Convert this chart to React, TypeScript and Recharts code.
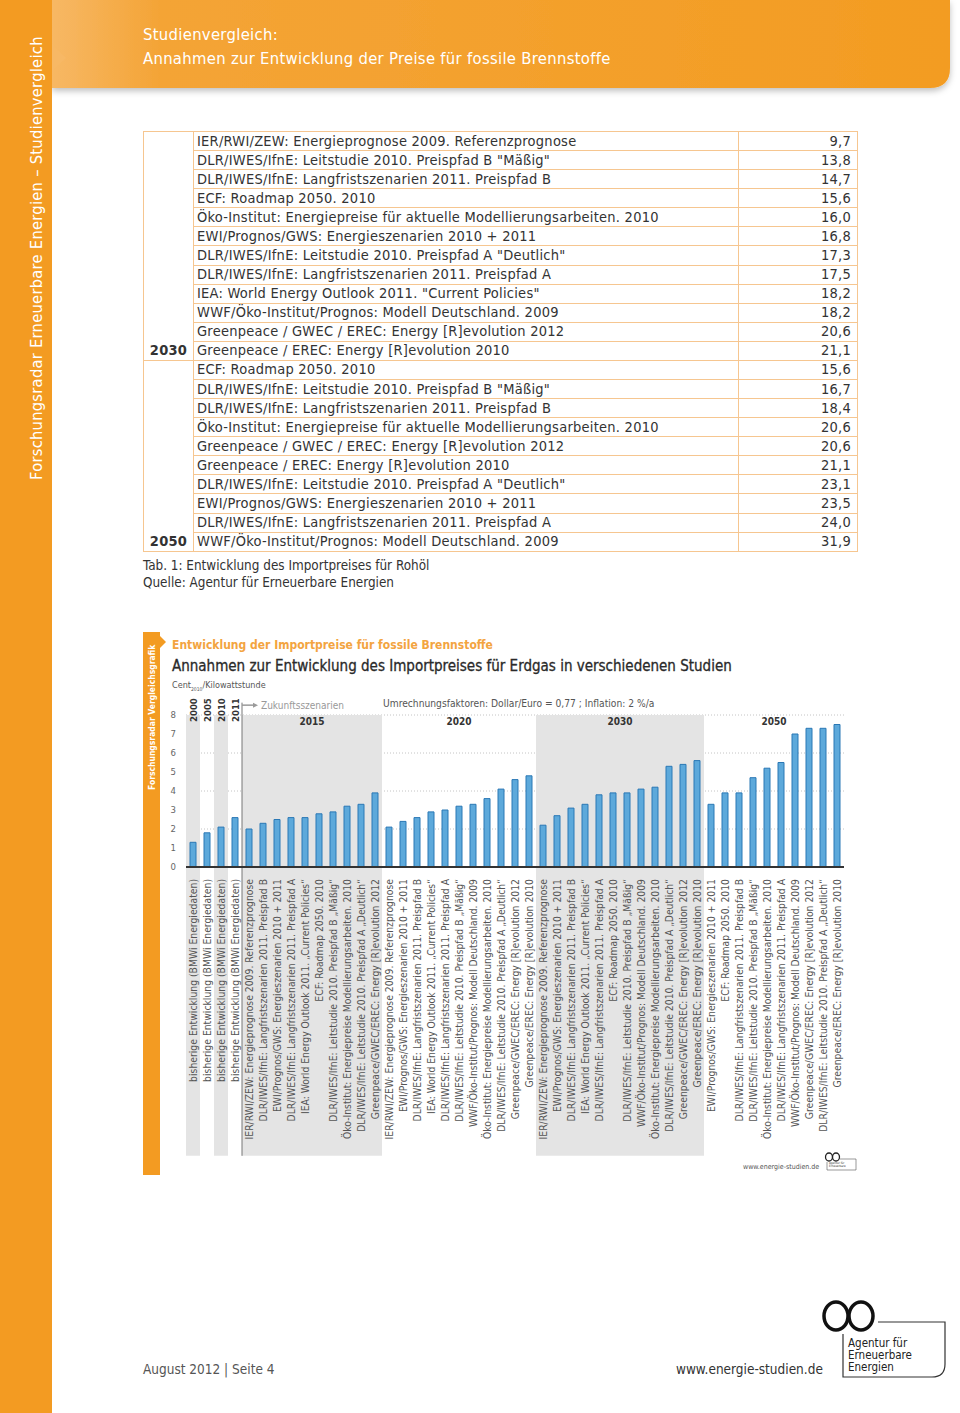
import React from 'react';
import { BarChart, Bar, XAxis, YAxis, CartesianGrid, ReferenceArea } from 'recharts';

const FONT = '"Liberation Sans Narrow", "DejaVu Sans Condensed", Roboto, sans-serif';
const ORANGE = '#F39B22';
const GRAY_BAND = '#e4e4e4';

// ---------- Table data ----------
const table2030Studies = [
  'IER/RWI/ZEW: Energieprognose 2009. Referenzprognose',
  'DLR/IWES/IfnE: Leitstudie 2010. Preispfad B "Mäßig"',
  'DLR/IWES/IfnE: Langfristszenarien 2011. Preispfad B',
  'ECF: Roadmap 2050. 2010',
  'Öko-Institut: Energiepreise für aktuelle Modellierungsarbeiten. 2010',
  'EWI/Prognos/GWS: Energieszenarien 2010 + 2011',
  'DLR/IWES/IfnE: Leitstudie 2010. Preispfad A "Deutlich"',
  'DLR/IWES/IfnE: Langfristszenarien 2011. Preispfad A',
  'IEA: World Energy Outlook 2011. "Current Policies"',
  'WWF/Öko-Institut/Prognos: Modell Deutschland. 2009',
  'Greenpeace / GWEC / EREC: Energy [R]evolution 2012',
  'Greenpeace / EREC: Energy [R]evolution 2010',
];
const table2030Values = ['9,7', '13,8', '14,7', '15,6', '16,0', '16,8', '17,3', '17,5', '18,2', '18,2', '20,6', '21,1'];
const table2050Studies = [
  'ECF: Roadmap 2050. 2010',
  'DLR/IWES/IfnE: Leitstudie 2010. Preispfad B "Mäßig"',
  'DLR/IWES/IfnE: Langfristszenarien 2011. Preispfad B',
  'Öko-Institut: Energiepreise für aktuelle Modellierungsarbeiten. 2010',
  'Greenpeace / GWEC / EREC: Energy [R]evolution 2012',
  'Greenpeace / EREC: Energy [R]evolution 2010',
  'DLR/IWES/IfnE: Leitstudie 2010. Preispfad A "Deutlich"',
  'EWI/Prognos/GWS: Energieszenarien 2010 + 2011',
  'DLR/IWES/IfnE: Langfristszenarien 2011. Preispfad A',
  'WWF/Öko-Institut/Prognos: Modell Deutschland. 2009',
];
const table2050Values = ['15,6', '16,7', '18,4', '20,6', '20,6', '21,1', '23,1', '23,5', '24,0', '31,9'];

// ---------- Chart data ----------
const histYears = ['2000', '2005', '2010', '2011'];
const histLabels = [
  'bisherige Entwicklung (BMWi Energiedaten)',
  'bisherige Entwicklung (BMWi Energiedaten)',
  'bisherige Entwicklung (BMWi Energiedaten)',
  'bisherige Entwicklung (BMWi Energiedaten)',
];
const histValues = [1.3, 1.8, 2.1, 2.6];

const labels2015 = [
  'IER/RWI/ZEW: Energieprognose 2009. Referenzprognose',
  'DLR/IWES/IfnE: Langfristszenarien 2011. Preispfad B',
  'EWI/Prognos/GWS: Energieszenarien 2010 + 2011',
  'DLR/IWES/IfnE: Langfristszenarien 2011. Preispfad A',
  'IEA: World Energy Outlook 2011. „Current Policies“',
  'ECF: Roadmap 2050. 2010',
  'DLR/IWES/IfnE: Leitstudie 2010. Preispfad B „Mäßig“',
  'Öko-Institut: Energiepreise Modellierungsarbeiten. 2010',
  'DLR/IWES/IfnE: Leitstudie 2010. Preispfad A „Deutlich“',
  'Greenpeace/GWEC/EREC: Energy [R]evolution 2012',
];
const values2015 = [2.0, 2.3, 2.5, 2.6, 2.6, 2.8, 2.9, 3.2, 3.3, 3.9];

const labels2020 = [
  'IER/RWI/ZEW: Energieprognose 2009. Referenzprognose',
  'EWI/Prognos/GWS: Energieszenarien 2010 + 2011',
  'DLR/IWES/IfnE: Langfristszenarien 2011. Preispfad B',
  'IEA: World Energy Outlook 2011. „Current Policies“',
  'DLR/IWES/IfnE: Langfristszenarien 2011. Preispfad A',
  'DLR/IWES/IfnE: Leitstudie 2010. Preispfad B „Mäßig“',
  'WWF/Öko-Institut/Prognos: Modell Deutschland. 2009',
  'Öko-Institut: Energiepreise Modellierungsarbeiten. 2010',
  'DLR/IWES/IfnE: Leitstudie 2010. Preispfad A „Deutlich“',
  'Greenpeace/GWEC/EREC: Energy [R]evolution 2012',
  'Greenpeace/EREC: Energy [R]evolution 2010',
];
const values2020 = [2.1, 2.4, 2.6, 2.9, 3.0, 3.2, 3.3, 3.6, 4.1, 4.6, 4.8];

const labels2030 = [
  'IER/RWI/ZEW: Energieprognose 2009. Referenzprognose',
  'EWI/Prognos/GWS: Energieszenarien 2010 + 2011',
  'DLR/IWES/IfnE: Langfristszenarien 2011. Preispfad B',
  'IEA: World Energy Outlook 2011. „Current Policies“',
  'DLR/IWES/IfnE: Langfristszenarien 2011. Preispfad A',
  'ECF: Roadmap 2050. 2010',
  'DLR/IWES/IfnE: Leitstudie 2010. Preispfad B „Mäßig“',
  'WWF/Öko-Institut/Prognos: Modell Deutschland. 2009',
  'Öko-Institut: Energiepreise Modellierungsarbeiten. 2010',
  'DLR/IWES/IfnE: Leitstudie 2010. Preispfad A „Deutlich“',
  'Greenpeace/GWEC/EREC: Energy [R]evolution 2012',
  'Greenpeace/EREC: Energy [R]evolution 2010',
];
const values2030 = [2.2, 2.7, 3.1, 3.3, 3.8, 3.9, 3.9, 4.1, 4.2, 5.3, 5.4, 5.6];

const labels2050 = [
  'EWI/Prognos/GWS: Energieszenarien 2010 + 2011',
  'ECF: Roadmap 2050. 2010',
  'DLR/IWES/IfnE: Langfristszenarien 2011. Preispfad B',
  'DLR/IWES/IfnE: Leitstudie 2010. Preispfad B „Mäßig“',
  'Öko-Institut: Energiepreise Modellierungsarbeiten. 2010',
  'DLR/IWES/IfnE: Langfristszenarien 2011. Preispfad A',
  'WWF/Öko-Institut/Prognos: Modell Deutschland. 2009',
  'Greenpeace/GWEC/EREC: Energy [R]evolution 2012',
  'DLR/IWES/IfnE: Leitstudie 2010. Preispfad A „Deutlich“',
  'Greenpeace/EREC: Energy [R]evolution 2010',
];
const values2050 = [3.3, 3.9, 3.9, 4.7, 5.2, 5.5, 7.0, 7.3, 7.3, 7.5];

const yTicks = [0, 1, 2, 3, 4, 5, 6, 7, 8];

// ---------- build chart rows ----------
const groups = [
  { labels: histLabels, values: histValues },
  { labels: labels2015, values: values2015 },
  { labels: labels2020, values: values2020 },
  { labels: labels2030, values: values2030 },
  { labels: labels2050, values: values2050 },
];
const data: { k: string; label: string; v: number }[] = [];
groups.forEach((g) => g.labels.forEach((l, i) => data.push({ k: 'k' + data.length, label: l, v: g.values[i] })));
const labelByKey: Record<string, string> = {};
data.forEach((d) => (labelByKey[d.k] = d.label));
const keyAt = (i: number) => data[i].k;
const start2015 = histLabels.length;
const start2020 = start2015 + labels2015.length;
const start2030 = start2020 + labels2020.length;
const start2050 = start2030 + labels2030.length;
const last = data.length - 1;

const LabelTick = (props: any) => {
  const { x, y, payload } = props;
  return (
    <text
      transform={`translate(${x + 3.7},${y + 10}) rotate(-90)`}
      textAnchor="end"
      fontSize={10.3}
      fill="#555"
      fontFamily={FONT}
    >
      {labelByKey[payload.value]}
    </text>
  );
};

const YearLabel = (props: any) => {
  const { viewBox, text } = props;
  if (!viewBox) return null;
  const cx = viewBox.x + viewBox.width / 2;
  return (
    <text
      transform={`translate(${cx + 3.5},${viewBox.y + 7}) rotate(-90)`}
      fontSize={9.5}
      fontWeight="bold"
      fill="#333"
      fontFamily={FONT}
    >
      {text}
    </text>
  );
};

const Separator = (p: any) => {
  const { x, y, height } = p;
  return (
    <g>
      <line x1={x} y1={y} x2={x} y2={y + height} stroke="#777" strokeWidth={1} />
      <line x1={x} y1={y + 2.5} x2={x + 12} y2={y + 2.5} stroke="#9a9a9a" strokeWidth={1.5} />
      <path d={`M${x + 11},${y} L${x + 16},${y + 2.5} L${x + 11},${y + 5} Z`} fill="#9a9a9a" />
      <text x={x + 19} y={y + 6} fontSize={10} fill="#999" fontFamily={FONT}>
        Zukunftsszenarien
      </text>
    </g>
  );
};

const groupLabel = (text: string) => ({
  value: text,
  position: 'insideTop' as const,
  offset: 3,
  fontSize: 10,
  fontWeight: 'bold',
  fill: '#333',
  fontFamily: FONT,
});

const Chart = () => (
  <BarChart
    width={700}
    height={540}
    data={data}
    margin={{ top: 85, right: 2, bottom: 3, left: 0 }}
    barCategoryGap={0}
  >
    <CartesianGrid horizontal vertical={false} stroke="#c4c4c4" strokeDasharray="1 2" />
    {histYears.map((yr, i) => (
      <ReferenceArea
        key={yr}
        x1={keyAt(i)}
        x2={keyAt(i)}
        y1={-15.2}
        y2={8}
        ifOverflow="visible"
        fill={i % 2 === 0 ? GRAY_BAND : '#ffffff'}
        fillOpacity={i % 2 === 0 ? 1 : 0}
        stroke="none"
        label={<YearLabel text={yr} />}
      />
    ))}
    <ReferenceArea x1={keyAt(start2015)} x2={keyAt(start2020 - 1)} y1={-15.2} y2={8} ifOverflow="visible" fill={GRAY_BAND} fillOpacity={1} stroke="none" label={groupLabel('2015')} />
    <ReferenceArea x1={keyAt(start2020)} x2={keyAt(start2030 - 1)} y1={-15.2} y2={8} ifOverflow="visible" fill="#ffffff" fillOpacity={0} stroke="none" label={groupLabel('2020')} />
    <ReferenceArea x1={keyAt(start2030)} x2={keyAt(start2050 - 1)} y1={-15.2} y2={8} ifOverflow="visible" fill={GRAY_BAND} fillOpacity={1} stroke="none" label={groupLabel('2030')} />
    <ReferenceArea x1={keyAt(start2050)} x2={keyAt(last)} y1={-15.2} y2={8} ifOverflow="visible" fill="#ffffff" fillOpacity={0} stroke="none" label={groupLabel('2050')} />
    <ReferenceArea x1={keyAt(start2015)} x2={keyAt(start2015)} y1={-15.2} y2={8.65} ifOverflow="visible" shape={<Separator />} />
    <XAxis
      dataKey="k"
      interval={0}
      tick={<LabelTick />}
      tickLine={false}
      tickSize={0}
      height={300}
      axisLine={{ stroke: '#333', strokeWidth: 2 }}
    />
    <YAxis
      domain={[0, 8]}
      ticks={yTicks}
      width={40}
      axisLine={false}
      tickLine={false}
      tickSize={0}
      tickMargin={10}
      tick={{ fontSize: 9.5, fill: '#666', fontFamily: FONT }}
    />
    <Bar dataKey="v" fill="#5DA9DB" stroke="#2B78B5" strokeWidth={1} barSize={6} isAnimationActive={false} />
  </BarChart>
);

const cellBorder = '1px solid #F6C690';

const TableBlock = () => {
  const rows: React.ReactNode[] = [];
  const addGroup = (year: string, studies: string[], values: string[]) => {
    studies.forEach((s, i) => {
      rows.push(
        <tr key={year + i} style={{ height: 19.09 }}>
          {i === 0 && (
            <td
              rowSpan={studies.length}
              style={{ border: cellBorder, verticalAlign: 'bottom', textAlign: 'center', fontWeight: 'bold', padding: '0 0 1px 0', lineHeight: '17px' }}
            >
              {year}
            </td>
          )}
          <td style={{ border: cellBorder, padding: '0 0 0 3px', whiteSpace: 'nowrap', lineHeight: '17px' }}>{s}</td>
          <td style={{ border: cellBorder, padding: '0 6px 0 0', textAlign: 'right', lineHeight: '17px' }}>{values[i]}</td>
        </tr>
      );
    });
  };
  addGroup('2030', table2030Studies, table2030Values);
  addGroup('2050', table2050Studies, table2050Values);
  return (
    <table
      style={{
        position: 'absolute',
        left: 143,
        top: 131,
        width: 714,
        borderCollapse: 'collapse',
        tableLayout: 'fixed',
        fontSize: 14.5,
        letterSpacing: 0.25,
        color: '#333',
        fontFamily: FONT,
      }}
    >
      <colgroup>
        <col style={{ width: 50 }} />
        <col style={{ width: 545 }} />
        <col style={{ width: 119 }} />
      </colgroup>
      <tbody>{rows}</tbody>
    </table>
  );
};

const abs = (left: number, top: number, extra: React.CSSProperties = {}): React.CSSProperties => ({
  position: 'absolute',
  left,
  top,
  whiteSpace: 'nowrap',
  ...extra,
});

export default function App() {
  return (
    <div style={{ position: 'absolute', left: 0, top: 0, width: 960, height: 1413, background: '#fff', overflow: 'hidden', fontFamily: FONT }}>
      <svg width={960} height={1413} style={{ position: 'absolute', left: 0, top: 0 }}>
        <defs>
          <linearGradient id="hdr" x1="0" y1="0" x2="1" y2="0">
            <stop offset="0" stopColor="#F7B865" />
            <stop offset="0.12" stopColor="#F4A436" />
            <stop offset="1" stopColor="#F39C22" />
          </linearGradient>
          <filter id="shadow" x="-5%" y="-20%" width="110%" height="150%">
            <feDropShadow dx="0" dy="3" stdDeviation="3" floodColor="#000" floodOpacity="0.25" />
          </filter>
        </defs>
        <path d="M52,0 L950,0 L950,68 Q950,88 930,88 L52,88 Z" fill="url(#hdr)" filter="url(#shadow)" />
        <rect x={0} y={0} width={52} height={1413} fill={ORANGE} />
        <path d="M52,45 L66,58 L52,71 Z" fill="#F7B865" />
        <text transform="translate(42,480) rotate(-90)" fill="#fff" fontSize={16.3} letterSpacing={0.3} fontFamily={FONT}>
          Forschungsradar Erneuerbare Energien – Studienvergleich
        </text>
        {/* chart side bar */}
        <rect x={143} y={632} width={17} height={543} fill={ORANGE} />
        <path d="M160,636 L166,642 L160,648 Z" fill={ORANGE} />
        <text transform="translate(154.5,790) rotate(-90)" fill="#fff" fontSize={8.5} fontWeight="bold" fontFamily={FONT}>
          Forschungsradar Vergleichsgrafik
        </text>
        {/* small logo in chart */}
        <ellipse cx={829} cy={1157} rx={3.5} ry={4} fill="none" stroke="#222" strokeWidth={1.3} />
        <ellipse cx={836} cy={1157} rx={3.5} ry={4} fill="none" stroke="#222" strokeWidth={1.3} />
        <path d="M840,1159 L856,1159 L856,1170 L827,1170 L827,1162" fill="none" stroke="#555" strokeWidth={0.6} />
        <text x={829} y={1164} fontSize={3} fill="#333">Agentur für</text>
        <text x={829} y={1167} fontSize={3} fill="#333">Erneuerbare</text>
        {/* footer logo */}
        <ellipse cx={836} cy={1316} rx={12} ry={14} fill="none" stroke="#111" strokeWidth={3.5} />
        <ellipse cx={861} cy={1316} rx={12} ry={14} fill="none" stroke="#111" strokeWidth={3.5} />
        <path d="M878,1322 L945,1322 L945,1364 Q945,1377 932,1377 L843,1377 L843,1334" fill="none" stroke="#333" strokeWidth={1.2} />
        <text x={848} y={1347} fontSize={11.5} fill="#222" fontFamily={FONT}>Agentur für</text>
        <text x={848} y={1359} fontSize={11.5} fill="#222" fontFamily={FONT}>Erneuerbare</text>
        <text x={848} y={1371} fontSize={11.5} fill="#222" fontFamily={FONT}>Energien</text>
      </svg>

      <div style={abs(143, 25, { color: '#fff', fontSize: 16.5, letterSpacing: 0.3 })}>Studienvergleich:</div>
      <div style={abs(143, 49, { color: '#fff', fontSize: 16.5, letterSpacing: 0.3 })}>Annahmen zur Entwicklung der Preise für fossile Brennstoffe</div>

      <TableBlock />

      <div style={abs(143, 558, { color: '#333', fontSize: 13.4 })}>Tab. 1: Entwicklung des Importpreises für Rohöl</div>
      <div style={abs(143, 575, { color: '#333', fontSize: 13.4 })}>Quelle: Agentur für Erneuerbare Energien</div>

      <div style={abs(172, 638, { color: '#F3A440', fontSize: 12, fontWeight: 'bold' })}>Entwicklung der Importpreise für fossile Brennstoffe</div>
      <div style={abs(172, 657, { color: '#2a2a2a', fontSize: 15, fontWeight: 500, WebkitTextStroke: '0.3px #2a2a2a' })}>
        Annahmen zur Entwicklung des Importpreises für Erdgas in verschiedenen Studien
      </div>
      <div style={abs(172, 680, { color: '#555', fontSize: 9 })}>
        Cent<sub style={{ fontSize: 5 }}>2010</sub>/Kilowattstunde
      </div>
      <div style={abs(383, 698, { color: '#555', fontSize: 10.2 })}>Umrechnungsfaktoren: Dollar/Euro = 0,77 ; Inflation: 2 %/a</div>

      <div style={{ position: 'absolute', left: 145.7, top: 630 }}>
        <Chart />
      </div>

      <div style={abs(743, 1163, { color: '#555', fontSize: 7 })}>www.energie-studien.de</div>

      <div style={abs(143, 1361, { color: '#555', fontSize: 13.5 })}>August 2012 | Seite 4</div>
      <div style={abs(676, 1361, { color: '#333', fontSize: 13.5 })}>www.energie-studien.de</div>
    </div>
  );
}
